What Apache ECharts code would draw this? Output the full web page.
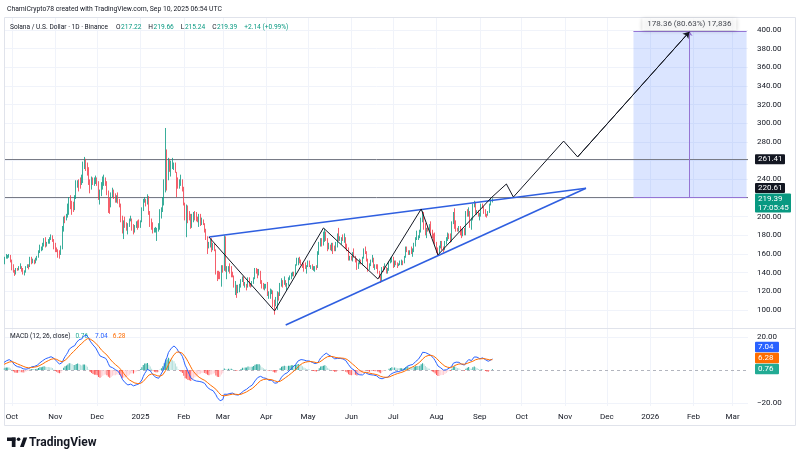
<!DOCTYPE html>
<html><head><meta charset="utf-8">
<script src="https://cdn.jsdelivr.net/npm/echarts@6/dist/echarts.min.js"></script>
<style>html,body{margin:0;padding:0;background:#fff}#c{width:800px;height:460px}</style>
</head><body><div id="c"></div><script>
// ---------- DATA (SOL/USD daily) ----------
const startDate = '2024-09-01';
const firstOpen = 133;
const closes = [
// Sep 2024
130,135,131,134,130,126,131,134,138,137,134,135,141,141,135,133,136,141,146,146,147,144,146,151,150,155.5,157.5,158,158.5,152.5,
// Oct
147,141.5,138,144,143.5,145.5,146,143.5,139.5,141,146,148.5,147,156,151.5,152.5,151,154,157,163,165.5,166,170,175,170,172,175,177,178,175,166.5,
// Nov
164.5,164,161.5,160,166,185,199,198,200.5,207,218,213,211.5,211,221,236,237.5,237,236,239,257,257,253,252,237,232,240.5,236.5,237,241,
// Dec
237.5,221.5,225,234,239,240,236,226,215,212,224,226.5,223.5,218,221,217,212,197,188,194,192,189,191,197,197,187.5,183,190,192,191.5,189.5,
// Jan 2025
194,207.5,217,218,214,220,204,198,189,185.5,186,186,186.5,188,206,207,218,234,255,241,260,250.5,255,255,256,248,238,233,235.5,238,231,
// Feb
213,203.5,211,200,199,190,196,203.5,201,198,195.5,201.5,193,196.5,193,185.5,177.5,169,169.5,173,166,170.5,165,139.5,137,136.5,136,146.5,
// Mar
143.5,178,142,143,144,141,139.5,136.5,125.5,126,124,124.5,126,131,135,126.5,127.5,126.5,133.5,127,126.5,129,134.5,142.5,141,140,142,130,125,124.5,124.5,
// Apr
125,116.5,117,119.5,121,106,105,106,118,117,127.5,132,128,130,126,127,134,134,139,139.5,138.5,147.5,151,155.5,152.5,149,148,146.5,145.5,147.5,
// May
152,147.5,147.5,144.5,145,146,145,160,170,175,171,176,182,176,165,168.5,166,170.5,167,165,168,179.5,176,176,176.5,175,178,167,166,156,157,
// Jun
156,161.5,157,153,145,150,153,151,156,165,162,155,146,147.5,153,154,147,147.5,147,141,136,132,145.5,145,145,140.5,143.5,151.5,152,155,
// Jul
147.5,151,149.5,148,149.5,152,152.5,151,157,165,163.5,161,162.5,162,163,171,176.5,177.5,178,184.5,197,203.5,191,186,187,185.5,191.5,181,180,179.5,172,
// Aug
166,162.5,168,172.5,167,165,172,174.5,181,178.5,174,193,201,193,187,185.5,189,182,180,186,182,204,203.5,205.5,189,198,212.5,214.5,205,206,201,
// Sep 2025
201.5,212.5,210.5,204.5,202.5,201.5,204.5,212,217.22,219.39
];
const highs = [
134,136,137,135,135,132,133,135,139,140,138,137,142,142,142,136,139,142,148,149,148,147,148,152,153,157,160,159,160,159,
154,149,143,145,145,147,150,147,145,142.5,147,149,149,157,157,155,154,156,158,164,170,168,172,177,178,173,176,178,181,180,176,
172,167,165,164,169,190,200,201,203,214,221,223,217,216,223,239,239,240,242,245,259,264,262,258,253,240,243,242,242,244,
242,238,229,237,243,245,242,238,228,220,226,231,229,225,223,226,219,214,201,196,200,194,193,198,201,198,192,191,195,196,197,
196,210,219,221,219,224,222,206,198,194,188,189,188,193,208,210,221,240,295,272,263,262,260,263,258,258,248,242,240,245,240,
232,215,213,212,206,203,203,205,206,205,200,203,203,199,197,193,187,179,173,176,177,172,171,165,142,142,141,148,
148,180,179,147,147,150,147,141,137,131,127,127,128,133,136,136,130,128,135,135,129,131,135,145,145,144,144,142,132,129,128,
128,130,120,123,122,121,111,114,120,119,129,134,132,136,132,129,135,137,140,141,141,149,156,156,157,154,151,150,151,148,
153,153,148,149,147,147,148,163,173,177,177,184,187,184,177,172,170,172,172,169,173,182,188,179,178,181,182,178,171,167,158,
158,162,166,158,155,151,155,154,157,166,168,163,155,150,154,159,156,149,149,149,142,137,146,147,150,146,145,152,156,157,
157,153,153,151,150,153,154,153,158,168,168,164,164,168,166,172,178,185,180,186,199,206,205,193,188,189,192,195,186,182,183,
173,167,169,174,174,168,174,178,183,182,182,195,205,209,196,188,190,190,187,188,188,206,208,210,206,199,214,217,216,207,207,
204,214,214,211,208,203,206,214,219,219.66
];
const lows = [
128,128,130,126,129,124,126,130,133,135,129,133,134,139,134,130,132,134,141,144,145,142,143,145,148,149,155,155,156,151,
142.5,140,136.5,138,142,142.5,144,141,138,137,140,145,143.5,146,149,150,149,150,153,156,161,163,164,168,167,168,171,171,175,173,165,
162,162,156,155,159,165,184,193,196,199,202,208,202,205,207,219,231,227,230,234,236,251,249,244,234,225,229,234,233,235,
233,218,213,222,229,233,233,223,204,203,210,221,219,215,215,214,210,194,182,176,188,185,181,189,195,185,181,183,188,186,188,
188,194,206,215,211,213,202,189,186,182,183,183,174,184,186,198,205,212,226,228,239,248,243,251,250,247,221,230,230,233,227,
212,196,178,193,196,187,188,194,196,195,194,189,190,191,191,183,175,160,166,167,162,164,163,138,131,133,133,125,
140,142,141,133,141,139,135,135,124,116,113,118,119,124,130,126,124,121,124,125,124,125,128,133,139,134,137,128,123,122,121,
123,115,112,112,117,103,95,104,100,110,115,125,124,127,125,121,126,132,133,136,136,137,148,148,150,148,145,141,144,139,
146,146,144,143,142,141,143,145,159,168,168,169,173,174,163,165,164,163,160,163,163,167,174,174,170,174,172,166,163,153,153,
153,152,156,151,143,144,149,149,148,155,160,152,141,143,147,151,145,143,144,139,134,129,131,141,143,139,139,142,150,151,
145,146,148,145,147,148,148,148,150,156,162,159,159,160,157,162,168,175,175,177,183,194,186,180,177,184,184,180,177,173,170,
161,158.5,161,166,164,162,164,170,174,176,172,173,192,187,184,184,184,180,177,179,180,180,200,200,188,186,196,210,203,202,200,
196,200,209,203,200,199,201,204,212,215.24
];
const priceTicks = [100,120,140,160,180,200,220,240,260,280,300,320,340,360,380,400];
const priceTickLabels = [100,120,140,160,180,200,240,280,300,320,340,360,380,400];
const macdTickLabels = [20,-20];
const monthLabels = ['Oct','Nov','Dec','2025','Feb','Mar','Apr','May','Jun','Jul','Aug','Sep','Oct','Nov','Dec','2026','Feb','Mar'];
const monthDates = ['2024-10-01','2024-11-01','2024-12-01','2025-01-01','2025-02-01','2025-03-01','2025-04-01','2025-05-01','2025-06-01','2025-07-01','2025-08-01','2025-09-01','2025-10-01','2025-11-01','2025-12-01','2026-01-01','2026-02-01','2026-03-01'];
const levelValues = [261.41, 220.61];
// drawn path (date, price)
const pathPoints = [['2025-02-19',178.2],['2025-04-07',99],['2025-05-12',187.9],['2025-06-20',133.2],['2025-07-21',208.2],['2025-08-02',159],['2025-09-09',220],['2025-09-20',235],['2025-09-25',221],['2025-10-31',281],['2025-11-10',264],['2026-01-29',398]];
const upperTrend = [['2025-02-19',178.2],['2025-11-16',230.5]];
const lowerTrend = [['2025-04-15',84],['2025-11-16',230.5]];
const rangeDates = ['2025-12-20','2026-03-11'];
const rangeMidDate = '2026-01-29';
const rangePrices = [220.61, 398.97];
const rangeLabel = '178.36 (80.63%) 17,836';
const headerText = 'ChamiCrypto78 created with TradingView.com, Sep 10, 2025 06:54 UTC';
const titleText = 'Solana / U.S. Dollar · 1D · Binance';
const ohlcKeys = ['O','H','L','C'];
const ohlcText = ['217.22','219.66','215.24','219.39'];
const changeText = '+2.14 (+0.99%)';
const macdTitle = 'MACD (12, 26, close)';
const macdLast = {hist:'0.76', macd:'7.04', signal:'6.28'};
const lastPriceText = ['219.39','17:05:45'];

// ---------- BUILD ----------
const F = 'Roboto';
const DAY = 86400000, origin = Date.UTC(2024,9,1);
const dayOf = s => (Date.parse(s) - origin) / DAY;
const start = dayOf(startDate);
const candles = closes.map((c,i)=>{const o = i ? closes[i-1] : firstOpen; return [start+i, o, c, Math.min(lows[i],o,c), Math.max(highs[i],o,c)];});
function ema(src,n){const k=2/(n+1);let e=src[0];return src.map((v,i)=>(e = i===0 ? v : v*k + e*(1-k)));}
const e12 = ema(closes,12), e26 = ema(closes,26);
const macd = closes.map((_,i)=>e12[i]-e26[i]);
const sig = ema(macd,9);
const hist = macd.map((m,i)=>m-sig[i]);
const histData = hist.map((h,i)=>{const p = i ? hist[i-1] : h; const col = h>=0 ? (h>=p?'#26A69A':'#B2DFDB') : (h>p?'#FFCDD2':'#FF5252'); return {value:[start+i,h], itemStyle:{color:col}};});
const monthDays = monthDates.map(dayOf);
const pts = arr => arr.map(([d,p])=>[dayOf(d),p]);
const rx = rangeDates.map(dayOf), rmid = dayOf(rangeMidDate);
const path = pts(pathPoints);

const XMIN=-5, XMAX=527;
const chart = echarts.init(document.getElementById('c'));
const axisFont = {fontSize:8, color:'#131722', fontFamily:F};
const gridLineStyle = {color:'#f0f3fa',width:1,type:'solid'};
const option = {
  animation:false,
  backgroundColor:'#ffffff',
  grid:[{left:5,right:52,top:18,height:310},{left:5,right:52,top:328,height:78}],
  xAxis:[
    {type:'value',gridIndex:0,min:XMIN,max:XMAX,axisLine:{show:false},axisTick:{show:false},axisLabel:{show:false},splitLine:{show:false}},
    {type:'value',gridIndex:1,min:XMIN,max:XMAX,axisLine:{show:false},axisTick:{show:false},splitLine:{show:false},
     axisLabel:Object.assign({customValues:monthDays,margin:7,formatter:v=>monthLabels[monthDays.indexOf(v)]||''},axisFont)}
  ],
  yAxis:[
    {type:'value',gridIndex:0,position:'right',min:80.714,max:412.857,axisLine:{show:false},axisTick:{show:false},splitLine:{show:false},
     axisLabel:Object.assign({customValues:priceTickLabels,margin:9,formatter:v=>v.toFixed(2)},axisFont)},
    {type:'value',gridIndex:1,position:'right',min:-21.818,max:25.4545,axisLine:{show:false},axisTick:{show:false},splitLine:{show:false},
     axisLabel:Object.assign({customValues:macdTickLabels,margin:9,formatter:v=>(v<0?'\u2212':'')+Math.abs(v).toFixed(2)},axisFont)}
  ],
  series:[
    {type:'line',xAxisIndex:0,yAxisIndex:0,data:[],silent:true,z:0,
     markLine:{z:0,silent:true,symbol:'none',label:{show:false},lineStyle:gridLineStyle,
       data:[...priceTicks.map(v=>({yAxis:v})),...monthDays.map(d=>({xAxis:d}))]}},
    {type:'line',xAxisIndex:1,yAxisIndex:1,data:[],silent:true,z:0,
     markLine:{z:0,silent:true,symbol:'none',label:{show:false},lineStyle:gridLineStyle,
       data:[...macdTickLabels.map(v=>({yAxis:v})),...monthDays.map(d=>({xAxis:d}))]}},
    {type:'line',xAxisIndex:0,yAxisIndex:0,data:[],silent:true,z:1,
     markArea:{z:1,silent:true,itemStyle:{color:'rgba(41,98,255,0.17)'},data:[[{xAxis:rx[0],yAxis:rangePrices[0]},{xAxis:rx[1],yAxis:rangePrices[1]}]]},
     markLine:{z:1,silent:true,symbol:'none',label:{show:false},lineStyle:{color:'#787b86',width:1,type:'solid'},data:levelValues.map(v=>({yAxis:v}))}},
    {type:'candlestick',xAxisIndex:0,yAxisIndex:0,data:candles,encode:{x:0,y:[1,2,3,4]},barWidth:1,z:2,
     itemStyle:{color:'#089981',color0:'#F23645',borderColor:'#089981',borderColor0:'#F23645',borderWidth:0.8}},
    {type:'lines',coordinateSystem:'cartesian2d',xAxisIndex:0,yAxisIndex:0,silent:true,symbol:'none',z:3,
     lineStyle:{color:'#9575d4',width:1,opacity:1},
     data:[{coords:[[rx[0],rangePrices[1]],[rx[1],rangePrices[1]]]},{coords:[[rx[0],rangePrices[0]],[rx[1],rangePrices[0]]]}]},
    {type:'lines',coordinateSystem:'cartesian2d',xAxisIndex:0,yAxisIndex:0,silent:true,symbol:['none','arrow'],symbolSize:5,z:3,
     lineStyle:{color:'#9575d4',width:1,opacity:1},data:[{coords:[[rmid,rangePrices[0]],[rmid,rangePrices[1]]]}]},
    {type:'line',xAxisIndex:0,yAxisIndex:0,data:pts(upperTrend),showSymbol:false,silent:true,z:4,lineStyle:{color:'#2f5fe0',width:1.6}},
    {type:'line',xAxisIndex:0,yAxisIndex:0,data:pts(lowerTrend),showSymbol:false,silent:true,z:4,lineStyle:{color:'#2f5fe0',width:1.6}},
    {type:'line',xAxisIndex:0,yAxisIndex:0,data:path,showSymbol:false,silent:true,z:5,lineStyle:{color:'#131722',width:1}},
    {type:'lines',coordinateSystem:'cartesian2d',xAxisIndex:0,yAxisIndex:0,silent:true,symbol:['none','arrow'],symbolSize:6,z:5,
     lineStyle:{color:'#131722',width:1,opacity:1},data:[{coords:path.slice(-2)}]},
    {type:'scatter',xAxisIndex:0,yAxisIndex:0,symbolSize:0,silent:true,z:6,data:[[rmid,rangePrices[1]]],
     label:{show:true,position:'top',distance:1,formatter:rangeLabel,backgroundColor:'#ffffff',padding:[2,5],fontSize:8,fontFamily:F,color:'#131722',
       shadowBlur:4,shadowColor:'rgba(0,0,0,0.25)',shadowOffsetY:1}},
    {type:'bar',xAxisIndex:1,yAxisIndex:1,data:histData,barWidth:1,silent:true,z:2,
     markLine:{z:1,silent:true,symbol:'none',label:{show:false},lineStyle:{color:'#b2b5be',width:1,type:[3,3]},data:[{yAxis:0}]}},
    {type:'line',xAxisIndex:1,yAxisIndex:1,data:macd.map((v,i)=>[start+i,v]),showSymbol:false,silent:true,z:3,lineStyle:{color:'#2962FF',width:1}},
    {type:'line',xAxisIndex:1,yAxisIndex:1,data:sig.map((v,i)=>[start+i,v]),showSymbol:false,silent:true,z:3,lineStyle:{color:'#FF6D00',width:1}}
  ]
};
chart.setOption(option);

const ctx = document.createElement('canvas').getContext('2d');
function measure(text, size, weight){ctx.font = `${weight||'normal'} ${size}px ${F}`; return ctx.measureText(text).width;}
function txt(x,y,text,fill,size,weight){return {type:'text',x:x,y:y,silent:true,style:{text:text,fill:fill||'#131722',fontSize:size||8,fontFamily:F,fontWeight:weight||'normal',textVerticalAlign:'middle',verticalAlign:'middle'}};}
function runText(x,y,parts,size){const out=[];parts.forEach(([t,c,gap])=>{out.push(txt(x,y,t,c,size)); x += measure(t,size) + (gap||0);});return out;}
function tag(x,yTop,w,h,bg,text,fg){return {type:'group',silent:true,children:[
  {type:'rect',shape:{x:x,y:yTop,width:w,height:h,r:1},style:{fill:bg}},
  {type:'text',x:x+3,y:yTop+h/2,style:{text:text,fill:fg,fontSize:8,fontFamily:F,lineHeight:9,textVerticalAlign:'middle',verticalAlign:'middle'}}]};}
const py = v => chart.convertToPixel({yAxisIndex:0}, v);
const my = v => chart.convertToPixel({yAxisIndex:1}, v);
const lastY = py(closes[closes.length-1]);
const tagX = 755;
const gHist = my(parseFloat(macdLast.hist));
const gSig = Math.min(my(parseFloat(macdLast.signal)), gHist-11);
const gMacd = Math.min(my(parseFloat(macdLast.macd)), gSig-11);
const GREEN = '#089981';
const DARK = '#131722';
const titleParts = [[titleText,DARK,8]];
ohlcKeys.forEach((k,i)=>{titleParts.push([k,DARK,0.5]); titleParts.push([ohlcText[i],GREEN,7]);});
titleParts.push([changeText,GREEN,0]);
const g = [
  {type:'rect',silent:true,shape:{x:4.5,y:17.5,width:791,height:408},style:{fill:'none',stroke:'#e0e3eb',lineWidth:1}},
  {type:'line',silent:true,shape:{x1:4.5,y1:328.5,x2:795.5,y2:328.5},style:{stroke:'#e0e3eb',lineWidth:1}},
  txt(7,9,headerText,DARK,6.8),
  ...runText(10,27,titleParts,6.6),
  ...runText(10,336,[[macdTitle,DARK,5],[macdLast.hist,'#22ab94',7],[macdLast.macd,'#2962FF',5],[macdLast.signal,'#FF6D00',0]],6.5),
  tag(tagX,py(levelValues[0])-5,30,10,DARK,levelValues[0].toFixed(2),'#ffffff'),
  tag(tagX,lastY-5-10.5,30,10,DARK,levelValues[1].toFixed(2),'#ffffff'),
  tag(tagX,lastY-5,36,19,GREEN,lastPriceText.join('\n'),'#ffffff'),
  tag(tagX,gMacd-5,24,10.5,'#2962FF',macdLast.macd,'#ffffff'),
  tag(tagX,gSig-5,24,10.5,'#FF6D00',macdLast.signal,'#ffffff'),
  tag(tagX,gHist-5,24,10.5,'#22ab94',macdLast.hist,'#ffffff'),
  // TradingView logo
  {type:'rect',silent:true,shape:{x:7,y:437.5,width:8.5,height:3.5},style:{fill:DARK}},
  {type:'rect',silent:true,shape:{x:11.8,y:437.5,width:3.7,height:9.5},style:{fill:DARK}},
  {type:'circle',silent:true,shape:{cx:18.6,cy:439.3,r:1.8},style:{fill:DARK}},
  {type:'polygon',silent:true,shape:{points:[[20,447],[23.8,447],[27.2,437.5],[23.4,437.5]]},style:{fill:DARK}},
  txt(29,442.5,'TradingView',DARK,12,'bold')
];
chart.setOption({graphic:g});
</script></body></html>
